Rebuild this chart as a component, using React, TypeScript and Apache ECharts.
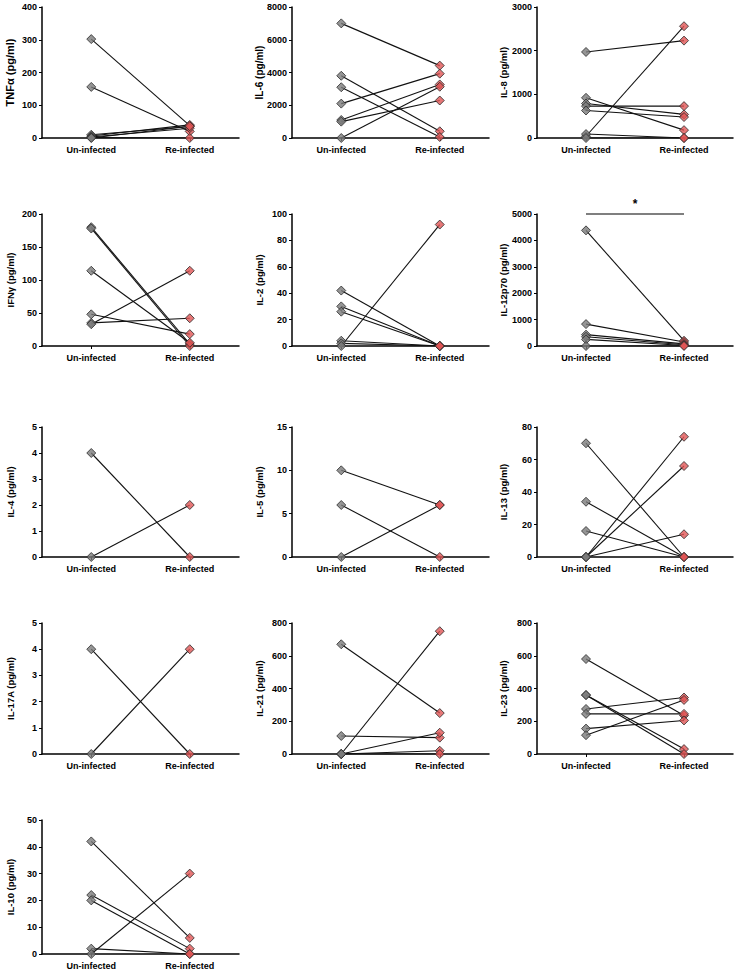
import React, { useEffect, useRef } from "react";
import * as echarts from "echarts";

const categories = ["Un-infected", "Re-infected"];

const tnfPre = [302, 156, 10, 6, 3, 1, 0];
const tnfPost = [38, 20, 35, 40, 30, 0, 36];
const il6Pre = [7000, 3800, 3100, 2100, 1100, 1000, 0];
const il6Post = [4420, 410, 60, 3930, 3270, 2290, 3130];
const il8Pre = [1970, 40, 920, 790, 730, 630, 90, 0];
const il8Post = [2230, 2560, 180, 540, 730, 480, 0, 0];
const ifnPre = [180, 178, 114, 48, 35, 33];
const ifnPost = [3, 0, 5, 18, 42, 114];
const il2Pre = [42, 30, 26, 4, 2, 0];
const il2Post = [0, 0, 0, 0, 0, 92];
const il12Pre = [4380, 830, 430, 350, 250, 0];
const il12Post = [200, 150, 80, 50, 20, 0];
const il4Pre = [4, 0];
const il4Post = [0, 2];
const il5Pre = [10, 6, 0];
const il5Post = [6, 0, 6];
const il13Pre = [70, 34, 16, 0, 0, 0];
const il13Post = [0, 0, 0, 74, 56, 14];
const il17Pre = [4, 0];
const il17Post = [0, 4];
const il21Pre = [670, 110, 0, 0, 0, 0];
const il21Post = [250, 100, 750, 130, 20, 0];
const il23Pre = [580, 360, 360, 275, 245, 155, 115];
const il23Post = [235, 30, 0, 345, 245, 205, 330];
const il10Pre = [42, 22, 20, 2, 0];
const il10Post = [6, 2, 0, 0, 30];

const panels = [
  { name: "TNFα (pg/ml)", max: 400, interval: 100, pre: tnfPre, post: tnfPost },
  { name: "IL-6 (pg/ml)", max: 8000, interval: 2000, pre: il6Pre, post: il6Post },
  { name: "IL-8 (pg/ml)", max: 3000, interval: 1000, pre: il8Pre, post: il8Post },
  { name: "IFNγ (pg/ml)", max: 200, interval: 50, pre: ifnPre, post: ifnPost },
  { name: "IL-2 (pg/ml)", max: 100, interval: 20, pre: il2Pre, post: il2Post },
  { name: "IL-12p70 (pg/ml)", max: 5000, interval: 1000, pre: il12Pre, post: il12Post, star: true },
  { name: "IL-4 (pg/ml)", max: 5, interval: 1, pre: il4Pre, post: il4Post },
  { name: "IL-5 (pg/ml)", max: 15, interval: 5, pre: il5Pre, post: il5Post },
  { name: "IL-13 (pg/ml)", max: 80, interval: 20, pre: il13Pre, post: il13Post },
  { name: "IL-17A (pg/ml)", max: 5, interval: 1, pre: il17Pre, post: il17Post },
  { name: "IL-21 (pg/ml)", max: 800, interval: 200, pre: il21Pre, post: il21Post },
  { name: "IL-23 (pg/ml)", max: 800, interval: 200, pre: il23Pre, post: il23Post },
  { name: "IL-10 (pg/ml)", max: 50, interval: 10, pre: il10Pre, post: il10Post },
];

// layout
const colLeft = [42, 292, 537];
const colWidth = [197, 197, 196];
const nameX = [10, 259, 503];
const rowTop = [7, 214, 427, 623, 820];
const rowHeight = [131, 132, 130, 131, 134];
const nameSize = [11, 10, 9.5, 9.5, 9.5, 9.5, 9.5, 9.5, 9.5, 9.5, 9.5, 9.5, 9.5];

const FONT = "'Liberation Sans', Arial, sans-serif";

export default function App() {
  const ref = useRef<HTMLDivElement>(null);
  useEffect(() => {
    if (!ref.current) return;
    const chart = echarts.init(ref.current, undefined, { renderer: "svg" });
    const grid: any[] = [];
    const xAxis: any[] = [];
    const yAxis: any[] = [];
    const series: any[] = [];
    const graphic: any[] = [];
    panels.forEach((p, i) => {
      const r = Math.floor(i / 3);
      const c = i % 3;
      const left = colLeft[c];
      const top = rowTop[r];
      const width = colWidth[c];
      const height = rowHeight[r];
      grid.push({ left, top, width, height, containLabel: false });
      xAxis.push({
        type: "category",
        gridIndex: i,
        data: categories,
        boundaryGap: true,
        axisLine: { lineStyle: { color: "#000", width: 1.5 } },
        axisTick: { show: true, alignWithLabel: true, length: 3, lineStyle: { color: "#000", width: 1 } },
        axisLabel: { color: "#000", fontWeight: "bold", fontSize: 9, fontFamily: FONT, margin: 7 },
        splitLine: { show: false },
      });
      yAxis.push({
        type: "value",
        gridIndex: i,
        min: 0,
        max: p.max,
        interval: p.interval,
        axisLine: { show: true, lineStyle: { color: "#000", width: 1.5 } },
        axisTick: { show: true, length: 3, lineStyle: { color: "#000", width: 1 } },
        axisLabel: {
          color: "#000",
          fontWeight: "bold",
          fontSize: 9,
          fontFamily: FONT,
          margin: 5,
          formatter: (v: number) => String(v),
        },
        splitLine: { show: false },
      });
      p.pre.forEach((v, j) => {
        series.push({
          type: "line",
          xAxisIndex: i,
          yAxisIndex: i,
          data: [[0, v], [1, p.post[j]]],
          showSymbol: false,
          symbol: "none",
          lineStyle: { color: "#111", width: 1.1 },
          z: 2,
          silent: true,
        });
      });
      series.push({
        type: "scatter",
        xAxisIndex: i,
        yAxisIndex: i,
        data: p.pre.map((v) => [0, v]),
        symbol: "diamond",
        symbolSize: 9,
        itemStyle: { color: "#7b7b7b", borderColor: "#2a2a2a", borderWidth: 1 },
        z: 5,
      });
      series.push({
        type: "scatter",
        xAxisIndex: i,
        yAxisIndex: i,
        data: p.post.map((v) => [1, v]),
        symbol: "diamond",
        symbolSize: 9,
        itemStyle: { color: "#e05555", borderColor: "#2a2a2a", borderWidth: 1 },
        z: 5,
      });
      graphic.push({
        type: "text",
        x: nameX[c],
        y: top + height / 2,
        rotation: Math.PI / 2,
        style: {
          text: p.name,
          fontSize: nameSize[i],
          fontWeight: "bold",
          fontFamily: FONT,
          fill: "#000",
          align: "center",
          verticalAlign: "middle",
        },
      });
      if ((p as any).star) {
        series.push({
          type: "line",
          xAxisIndex: i,
          yAxisIndex: i,
          data: [[0, p.max], [1, p.max]],
          symbol: "none",
          clip: false,
          lineStyle: { color: "#000", width: 1.2 },
          z: 3,
          silent: true,
        });
        graphic.push({
          type: "text",
          x: left + width / 2,
          y: top - 4,
          style: {
            text: "*",
            fontSize: 12,
            fontWeight: "bold",
            fontFamily: FONT,
            fill: "#000",
            align: "center",
            verticalAlign: "bottom",
          },
        });
      }
    });
    chart.setOption({
      animation: false,
      backgroundColor: "#fff",
      grid,
      xAxis,
      yAxis,
      series,
      graphic,
    });
    return () => chart.dispose();
  }, []);
  return (
    <div
      ref={ref}
      style={{ position: "absolute", left: 0, top: 0, width: 739, height: 976 }}
    />
  );
}
